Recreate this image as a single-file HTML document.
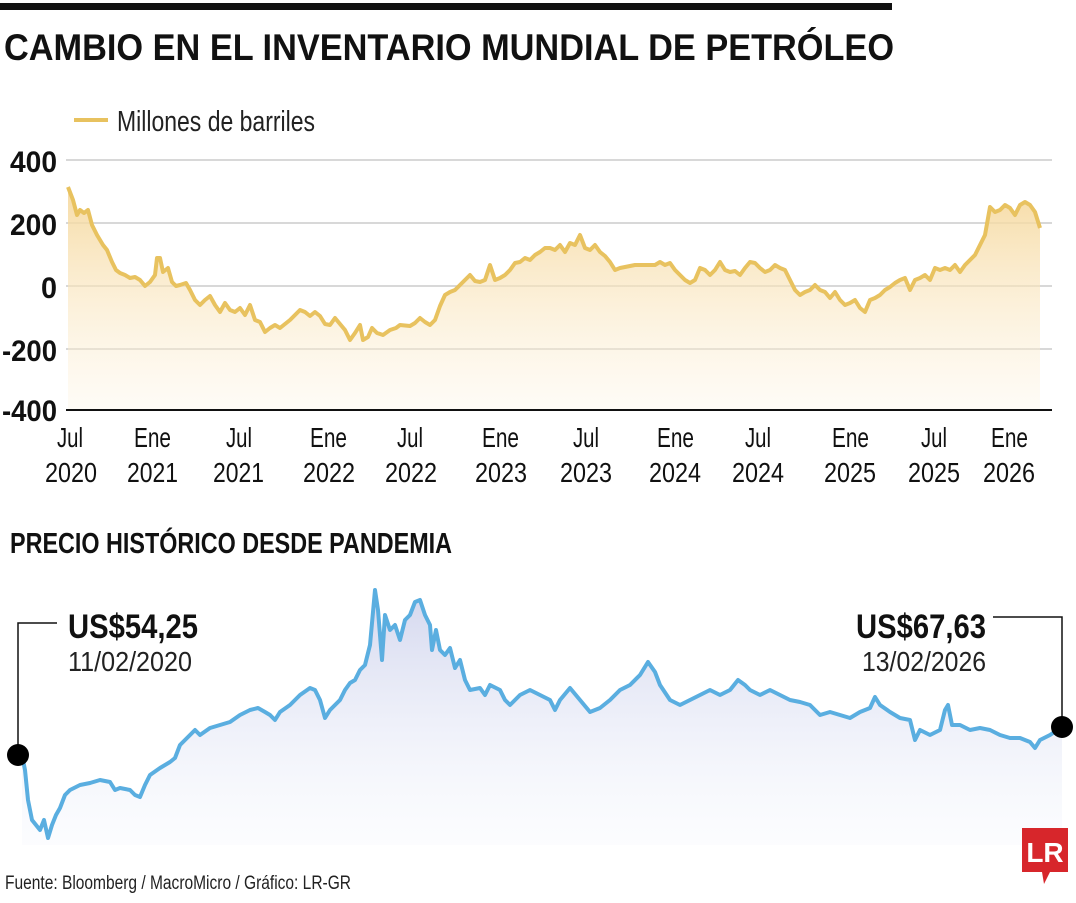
<!DOCTYPE html>
<html><head><meta charset="utf-8"><style>
body{margin:0;background:#fff;width:1076px;height:898px;overflow:hidden;font-family:"Liberation Sans",sans-serif}
svg text{font-family:"Liberation Sans",sans-serif}
</style></head><body>
<svg width="1076" height="898" viewBox="0 0 1076 898">
<defs>
<linearGradient id="g1" x1="0" y1="0" x2="0" y2="1"><stop offset="0" stop-color="#f5d79a" stop-opacity="0.9"/><stop offset="1" stop-color="#fdf3e0" stop-opacity="0.3"/></linearGradient>
<linearGradient id="g2" x1="0" y1="0" x2="0" y2="1"><stop offset="0" stop-color="#c9cdea" stop-opacity="0.8"/><stop offset="1" stop-color="#eef2fb" stop-opacity="0.2"/></linearGradient>
</defs>
<rect x="0" y="3" width="892" height="7" fill="#111"/>
<text x="4" y="60" font-size="37" font-weight="bold" fill="#111" textLength="890" lengthAdjust="spacingAndGlyphs">CAMBIO EN EL INVENTARIO MUNDIAL DE PETRÓLEO</text>
<line x1="74" y1="120" x2="108" y2="120" stroke="#e8c25f" stroke-width="4"/>
<text x="117" y="131" font-size="29" fill="#222" textLength="198" lengthAdjust="spacingAndGlyphs">Millones de barriles</text>
<g stroke="#ccc" stroke-width="1.5">
<line x1="66" y1="160" x2="1052" y2="160"/><line x1="66" y1="223" x2="1052" y2="223"/><line x1="66" y1="286" x2="1052" y2="286"/><line x1="66" y1="349" x2="1052" y2="349"/>
</g>
<line x1="66" y1="410" x2="1052" y2="410" stroke="#111" stroke-width="2"/>
<g font-size="30" font-weight="bold" fill="#111" lengthAdjust="spacingAndGlyphs">
<text x="10" y="172" textLength="47" lengthAdjust="spacingAndGlyphs">400</text><text x="10" y="235" textLength="47" lengthAdjust="spacingAndGlyphs">200</text><text x="41" y="298" textLength="16" lengthAdjust="spacingAndGlyphs">0</text><text x="2" y="361" textLength="55" lengthAdjust="spacingAndGlyphs">-200</text><text x="2" y="421" textLength="55" lengthAdjust="spacingAndGlyphs">-400</text>
</g>
<g font-size="28" fill="#111">
<text x="57" y="447" textLength="26" lengthAdjust="spacingAndGlyphs">Jul</text><text x="45" y="482" textLength="52" lengthAdjust="spacingAndGlyphs">2020</text>
<text x="134" y="447" textLength="37" lengthAdjust="spacingAndGlyphs">Ene</text><text x="127" y="482" textLength="51" lengthAdjust="spacingAndGlyphs">2021</text>
<text x="226" y="447" textLength="26" lengthAdjust="spacingAndGlyphs">Jul</text><text x="213" y="482" textLength="51" lengthAdjust="spacingAndGlyphs">2021</text>
<text x="310" y="447" textLength="37" lengthAdjust="spacingAndGlyphs">Ene</text><text x="303" y="482" textLength="52" lengthAdjust="spacingAndGlyphs">2022</text>
<text x="397" y="447" textLength="26" lengthAdjust="spacingAndGlyphs">Jul</text><text x="385" y="482" textLength="52" lengthAdjust="spacingAndGlyphs">2022</text>
<text x="482" y="447" textLength="37" lengthAdjust="spacingAndGlyphs">Ene</text><text x="475" y="482" textLength="52" lengthAdjust="spacingAndGlyphs">2023</text>
<text x="573" y="447" textLength="26" lengthAdjust="spacingAndGlyphs">Jul</text><text x="560" y="482" textLength="52" lengthAdjust="spacingAndGlyphs">2023</text>
<text x="657" y="447" textLength="37" lengthAdjust="spacingAndGlyphs">Ene</text><text x="649" y="482" textLength="52" lengthAdjust="spacingAndGlyphs">2024</text>
<text x="745" y="447" textLength="26" lengthAdjust="spacingAndGlyphs">Jul</text><text x="732" y="482" textLength="52" lengthAdjust="spacingAndGlyphs">2024</text>
<text x="832" y="447" textLength="37" lengthAdjust="spacingAndGlyphs">Ene</text><text x="824" y="482" textLength="52" lengthAdjust="spacingAndGlyphs">2025</text>
<text x="921" y="447" textLength="26" lengthAdjust="spacingAndGlyphs">Jul</text><text x="908" y="482" textLength="52" lengthAdjust="spacingAndGlyphs">2025</text>
<text x="991" y="447" textLength="37" lengthAdjust="spacingAndGlyphs">Ene</text><text x="983" y="482" textLength="52" lengthAdjust="spacingAndGlyphs">2026</text>
</g>
<path d="M68,187 L73,200 77,215 80,210 84,213 88,210 92,225 97,235 103,245 107,250 112,262 116,270 120,273 125,275 130,278 135,277 140,280 145,286 150,282 155,275 157,258 160,258 163,272 168,268 172,282 176,286 180,285 186,283 190,290 195,300 200,305 205,300 210,296 215,305 220,312 225,303 230,310 235,312 240,308 245,315 250,305 255,320 260,322 265,332 270,328 275,325 280,328 290,320 300,310 305,312 310,316 315,312 320,316 325,324 330,325 335,318 340,324 345,330 350,340 355,333 360,325 363,340 368,337 372,328 377,333 383,335 390,330 396,328 400,325 410,326 415,323 420,318 425,322 430,325 435,320 440,306 445,295 450,292 455,290 460,285 465,280 470,275 475,281 480,282 485,280 490,265 495,280 500,278 505,275 510,270 515,263 520,262 525,258 530,260 535,255 540,252 545,248 550,248 555,250 560,245 565,252 570,243 575,245 580,235 585,248 590,250 595,245 600,252 605,256 610,262 615,270 620,268 625,267 635,265 645,265 655,265 660,262 665,265 670,263 675,270 680,275 685,280 690,283 695,280 700,268 705,270 710,275 715,270 720,262 725,270 730,272 735,271 740,275 745,268 750,262 755,263 760,268 765,272 770,270 775,265 780,268 785,270 790,280 795,290 800,295 805,292 810,290 815,285 820,290 825,292 830,298 835,292 840,300 845,305 850,303 855,300 860,308 865,312 870,300 875,298 880,295 885,290 890,287 895,283 900,280 905,278 910,290 915,280 920,278 925,275 930,280 935,268 940,270 945,268 950,270 955,265 960,272 965,265 970,260 975,255 980,245 985,235 990,207 995,212 1000,210 1005,205 1010,208 1015,215 1020,205 1025,202 1030,205 1035,212 1040,228 L1040,409 L68,409 Z" fill="url(#g1)"/>
<path d="M68,187 L73,200 77,215 80,210 84,213 88,210 92,225 97,235 103,245 107,250 112,262 116,270 120,273 125,275 130,278 135,277 140,280 145,286 150,282 155,275 157,258 160,258 163,272 168,268 172,282 176,286 180,285 186,283 190,290 195,300 200,305 205,300 210,296 215,305 220,312 225,303 230,310 235,312 240,308 245,315 250,305 255,320 260,322 265,332 270,328 275,325 280,328 290,320 300,310 305,312 310,316 315,312 320,316 325,324 330,325 335,318 340,324 345,330 350,340 355,333 360,325 363,340 368,337 372,328 377,333 383,335 390,330 396,328 400,325 410,326 415,323 420,318 425,322 430,325 435,320 440,306 445,295 450,292 455,290 460,285 465,280 470,275 475,281 480,282 485,280 490,265 495,280 500,278 505,275 510,270 515,263 520,262 525,258 530,260 535,255 540,252 545,248 550,248 555,250 560,245 565,252 570,243 575,245 580,235 585,248 590,250 595,245 600,252 605,256 610,262 615,270 620,268 625,267 635,265 645,265 655,265 660,262 665,265 670,263 675,270 680,275 685,280 690,283 695,280 700,268 705,270 710,275 715,270 720,262 725,270 730,272 735,271 740,275 745,268 750,262 755,263 760,268 765,272 770,270 775,265 780,268 785,270 790,280 795,290 800,295 805,292 810,290 815,285 820,290 825,292 830,298 835,292 840,300 845,305 850,303 855,300 860,308 865,312 870,300 875,298 880,295 885,290 890,287 895,283 900,280 905,278 910,290 915,280 920,278 925,275 930,280 935,268 940,270 945,268 950,270 955,265 960,272 965,265 970,260 975,255 980,245 985,235 990,207 995,212 1000,210 1005,205 1010,208 1015,215 1020,205 1025,202 1030,205 1035,212 1040,228" fill="none" stroke="#e8c25f" stroke-width="4" stroke-linejoin="round"/>
<text x="10" y="553" font-size="29" font-weight="bold" fill="#111" textLength="442" lengthAdjust="spacingAndGlyphs">PRECIO HISTÓRICO DESDE PANDEMIA</text>
<path d="M22,755 L25,770 28,800 32,820 36,825 40,830 44,820 48,838 52,825 56,815 60,808 65,795 70,790 80,785 90,783 100,780 110,782 115,790 120,788 130,790 135,795 140,797 145,785 150,775 160,768 170,762 175,758 180,745 190,735 195,730 200,735 210,728 220,725 230,722 240,715 250,710 258,708 265,712 270,715 275,720 280,712 290,705 300,695 310,688 315,690 320,700 325,718 330,710 340,700 345,690 350,683 355,680 360,670 365,665 370,645 375,590 378,610 382,660 385,615 390,630 395,625 400,640 405,620 410,615 415,602 420,600 425,615 430,625 432,650 436,630 440,650 445,655 450,648 455,668 460,660 465,680 470,690 480,688 485,695 490,685 500,690 505,700 510,705 520,695 530,690 540,695 550,700 555,710 560,700 570,688 580,700 590,712 600,708 610,700 620,690 630,685 640,675 648,662 655,672 660,685 670,700 680,705 690,700 700,695 710,690 720,695 730,690 738,680 745,685 750,690 760,695 770,690 780,695 790,700 800,702 810,705 820,715 830,712 840,715 850,718 860,712 870,708 875,697 880,705 890,712 900,718 910,720 915,740 920,730 930,735 940,730 945,710 948,705 952,725 960,725 970,730 980,728 990,730 1000,735 1010,738 1020,738 1030,742 1035,748 1040,740 1050,735 1062,727 L1062,845 L22,845 Z" fill="url(#g2)"/>
<path d="M22,755 L25,770 28,800 32,820 36,825 40,830 44,820 48,838 52,825 56,815 60,808 65,795 70,790 80,785 90,783 100,780 110,782 115,790 120,788 130,790 135,795 140,797 145,785 150,775 160,768 170,762 175,758 180,745 190,735 195,730 200,735 210,728 220,725 230,722 240,715 250,710 258,708 265,712 270,715 275,720 280,712 290,705 300,695 310,688 315,690 320,700 325,718 330,710 340,700 345,690 350,683 355,680 360,670 365,665 370,645 375,590 378,610 382,660 385,615 390,630 395,625 400,640 405,620 410,615 415,602 420,600 425,615 430,625 432,650 436,630 440,650 445,655 450,648 455,668 460,660 465,680 470,690 480,688 485,695 490,685 500,690 505,700 510,705 520,695 530,690 540,695 550,700 555,710 560,700 570,688 580,700 590,712 600,708 610,700 620,690 630,685 640,675 648,662 655,672 660,685 670,700 680,705 690,700 700,695 710,690 720,695 730,690 738,680 745,685 750,690 760,695 770,690 780,695 790,700 800,702 810,705 820,715 830,712 840,715 850,718 860,712 870,708 875,697 880,705 890,712 900,718 910,720 915,740 920,730 930,735 940,730 945,710 948,705 952,725 960,725 970,730 980,728 990,730 1000,735 1010,738 1020,738 1030,742 1035,748 1040,740 1050,735 1062,727" fill="none" stroke="#5aaee0" stroke-width="4" stroke-linejoin="round"/>
<polyline points="18,755 18,623 57,623" fill="none" stroke="#111" stroke-width="1.5"/>
<polyline points="1062,727 1062,617 993,617" fill="none" stroke="#111" stroke-width="1.5"/>
<circle cx="18" cy="755" r="11" fill="#000"/>
<circle cx="1062" cy="727" r="11" fill="#000"/>
<text x="68" y="638" font-size="34" font-weight="bold" fill="#111" textLength="130" lengthAdjust="spacingAndGlyphs">US$54,25</text>
<text x="68" y="671" font-size="28" fill="#222" textLength="124" lengthAdjust="spacingAndGlyphs">11/02/2020</text>
<text x="856" y="638" font-size="34" font-weight="bold" fill="#111" textLength="130" lengthAdjust="spacingAndGlyphs">US$67,63</text>
<text x="862" y="671" font-size="28" fill="#222" textLength="124" lengthAdjust="spacingAndGlyphs">13/02/2026</text>
<text x="5" y="889" font-size="19" fill="#222" textLength="346" lengthAdjust="spacingAndGlyphs">Fuente: Bloomberg / MacroMicro / Gráfico: LR-GR</text>
<path d="M1022,828 L1068,828 L1068,872 L1050,872 L1044,884 L1042,872 L1022,872 Z" fill="#d7262b"/>
<text x="1045" y="862" font-size="28" font-weight="bold" fill="#fff" text-anchor="middle" font-family="Liberation Serif,serif">LR</text>
</svg>
</body></html>
